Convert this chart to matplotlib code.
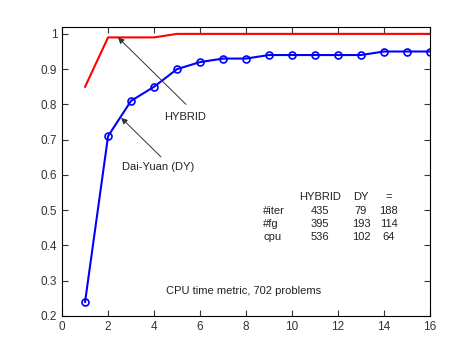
import matplotlib
matplotlib.use('Agg')
import matplotlib.pyplot as plt

plt.rcParams['font.family'] = ['Liberation Sans', 'DejaVu Sans']

# Данні профілю продуктивності
x_vals = list(range(1, 17))
hybrid = [0.85, 0.99, 0.99, 0.99, 1.0, 1.0, 1.0, 1.0, 1.0, 1.0, 1.0, 1.0, 1.0, 1.0, 1.0, 1.0]
dai_yuan = [0.24, 0.71, 0.81, 0.85, 0.90, 0.92, 0.93, 0.93, 0.94, 0.94, 0.94, 0.94, 0.94, 0.95, 0.95, 0.95]

table_cols = ['HYBRID', 'DY', '=']
table_rows = ['#iter', '#fg', 'cpu']
table_vals = [[435, 79, 188], [395, 193, 114], [536, 102, 64]]

fig = plt.figure(figsize=(4.74, 3.53), dpi=100)
ax = fig.add_axes([0.131, 0.105, 0.776, 0.819])

ax.plot(x_vals, hybrid, color='red', linewidth=1.5)
ax.plot(x_vals, dai_yuan, color='blue', linewidth=1.5, marker='o',
        markersize=5, markerfacecolor='none', markeredgewidth=1.2)

ax.set_xlim(0, 16)
ax.set_ylim(0.2, 1.02)
ax.set_xticks(range(0, 17, 2))
ax.set_yticks([0.2, 0.3, 0.4, 0.5, 0.6, 0.7, 0.8, 0.9, 1])
ax.set_yticklabels(['0.2', '0.3', '0.4', '0.5', '0.6', '0.7', '0.8', '0.9', '1'])
ax.tick_params(direction='in', top=True, right=True, labelsize=8.5, length=4,
               colors='#333333', labelcolor='#333333')
for s in ax.spines.values():
    s.set_linewidth(0.8)

# Стрілки та підписи
arrow = dict(arrowstyle='-|>', color='#333333', lw=0.7, shrinkA=0, shrinkB=0,
             mutation_scale=9)
ax.annotate('', xy=(2.43, 0.99), xytext=(5.39, 0.80), arrowprops=arrow)
ax.text(4.45, 0.765, 'HYBRID', fontsize=8, va='center', ha='left', color='#222222')
ax.annotate('', xy=(2.57, 0.762), xytext=(4.3, 0.651), arrowprops=arrow)
ax.text(2.6, 0.623, 'Dai-Yuan (DY)', fontsize=8, va='center', ha='left', color='#222222')

# Таблиця з результатами
col_x = [11.2, 13.0, 14.2]
row_y = [0.537, 0.499, 0.461, 0.424]
for cx, name in zip(col_x, table_cols):
    ax.text(cx, row_y[0], name, fontsize=8, ha='center', va='center', color='#222222')
for ry, rname, vals in zip(row_y[1:], table_rows, table_vals):
    ax.text(8.75, ry, rname, fontsize=8, ha='left', va='center', color='#222222')
    for cx, v in zip(col_x, vals):
        ax.text(cx, ry, str(v), fontsize=8, ha='center', va='center', color='#222222')

ax.text(7.9, 0.272, 'CPU time metric, 702 problems', fontsize=8,
        ha='center', va='center', color='#222222')

fig.savefig('out.png', dpi=100)
